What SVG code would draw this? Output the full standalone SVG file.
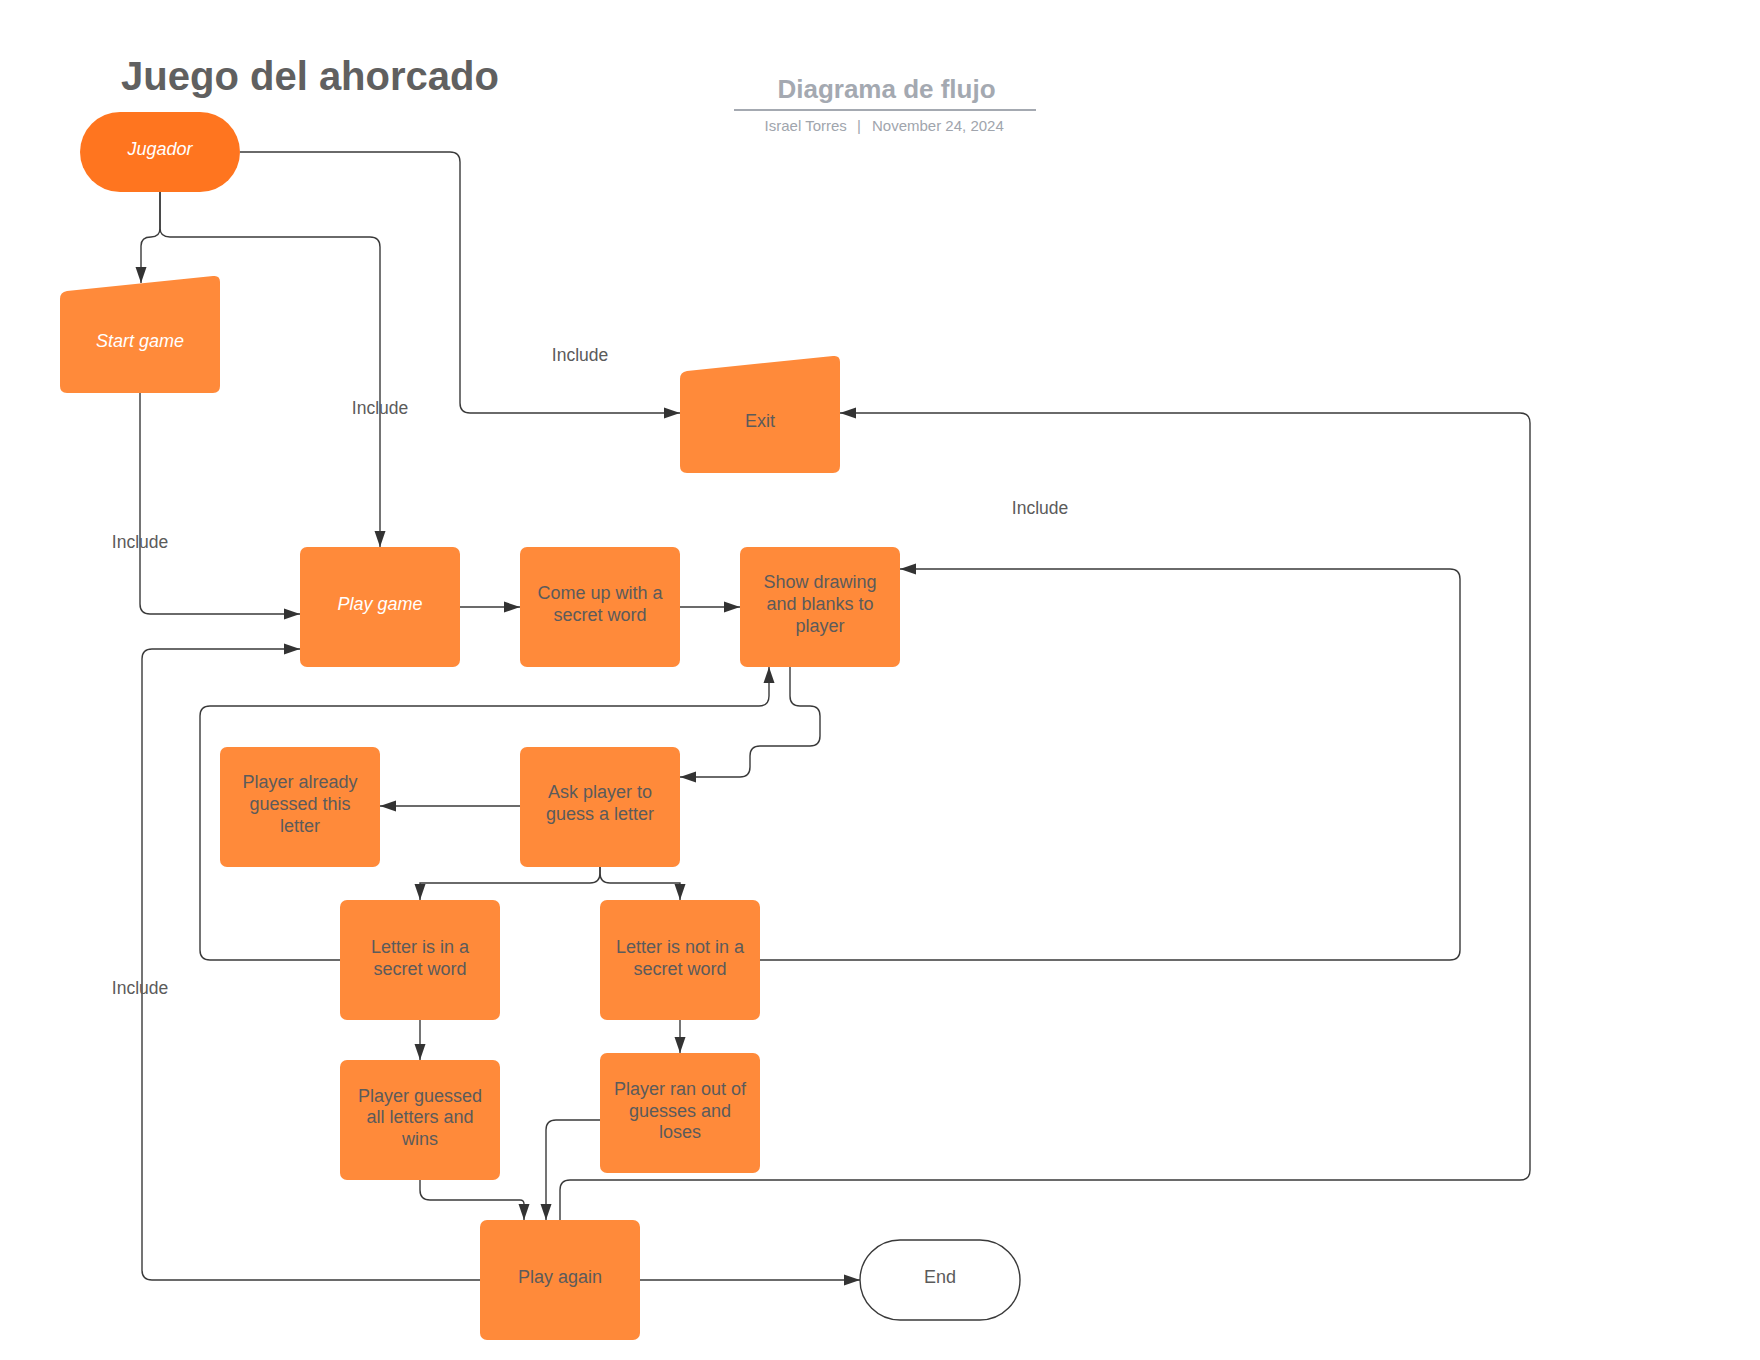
<svg xmlns="http://www.w3.org/2000/svg" width="1760" height="1360" viewBox="0 0 1760 1360">
<style>
.node{fill:#FF8A3A;}
.lbl{font-family:"Liberation Sans",Arial,sans-serif;font-size:18px;fill:#5B5B5B;text-anchor:middle;}
.wlbl{font-family:"Liberation Sans",Arial,sans-serif;font-size:18px;fill:#FFFFFF;font-style:italic;text-anchor:middle;}
.inc{font-family:"Liberation Sans",Arial,sans-serif;font-size:17.5px;fill:#5B5B5B;text-anchor:middle;}
.con{fill:none;stroke:#3A3A3A;stroke-width:1.4;}
.arr{marker-end:url(#arrow);}
</style>
<defs>
<marker id="arrow" markerWidth="16" markerHeight="12" refX="16" refY="6" orient="auto" markerUnits="userSpaceOnUse">
<path d="M0,0.5 L16,6 L0,11.5 Z" fill="#333333"/>
</marker>
</defs>
<rect x="0" y="0" width="1760" height="1360" fill="#FFFFFF"/>

<g id="header">
<text x="310" y="90" font-family="'Liberation Sans',Arial,sans-serif" font-size="40" font-weight="bold" fill="#606060" text-anchor="middle">Juego del ahorcado</text>
<text x="886.5" y="98" font-family="'Liberation Sans',Arial,sans-serif" font-size="26" font-weight="bold" fill="#A4A9B1" text-anchor="middle">Diagrama de flujo</text>
<line x1="734" y1="110" x2="1036" y2="110" stroke="#A4A9B1" stroke-width="2"/>
<text y="131" font-family="'Liberation Sans',Arial,sans-serif" font-size="15" fill="#A0A5AD"><tspan x="764.6">Israel Torres</tspan><tspan x="859" text-anchor="middle">|</tspan><tspan x="872">November 24, 2024</tspan></text>
</g>

<g id="connectors">
<path class="con arr" d="M240,152 H450 Q460,152 460,162 V403 Q460,413 470,413 H680"/>
<path class="con arr" d="M160,192 V228 Q160,237 151,237 Q141,237 141,246 V283"/>
<path class="con arr" d="M160,192 V228 Q160,237 170,237 H370 Q380,237 380,247 V547"/>
<path class="con arr" d="M140,393 V604 Q140,614 150,614 H300"/>
<path class="con arr" d="M460,607 H520"/>
<path class="con arr" d="M680,607 H740"/>
<path class="con arr" d="M790,667 V696 Q790,706 800,706 H810 Q820,706 820,716 V736 Q820,746 810,746 H760 Q750,746 750,756 V767 Q750,777 740,777 H680"/>
<path class="con arr" d="M520,806 H380"/>
<path class="con arr" d="M600,867 V873 Q600,883 590,883 H420 V900"/>
<path class="con arr" d="M600,867 V873 Q600,883 610,883 H680 V900"/>
<path class="con arr" d="M420,1020 V1060"/>
<path class="con arr" d="M680,1020 V1053"/>
<path class="con arr" d="M340,960 H210 Q200,960 200,950 V716 Q200,706 210,706 H759 Q769,706 769,696 V667"/>
<path class="con arr" d="M760,960 H1450 Q1460,960 1460,950 V579 Q1460,569 1450,569 H900"/>
<path class="con arr" d="M420,1180 V1190 Q420,1200 430,1200 H520 Q524,1200 524,1204 V1220"/>
<path class="con arr" d="M600,1120 H556 Q546,1120 546,1130 V1220"/>
<path class="con arr" d="M560,1220 V1190 Q560,1180 570,1180 H1520 Q1530,1180 1530,1170 V423 Q1530,413 1520,413 H840"/>
<path class="con arr" d="M480,1280 H152 Q142,1280 142,1270 V659 Q142,649 152,649 H300"/>
<path class="con arr" d="M640,1280 H860"/>
<text class="inc" x="380" y="414">Include</text>
<text class="inc" x="580" y="361">Include</text>
<text class="inc" x="140" y="548">Include</text>
<text class="inc" x="140" y="994">Include</text>
<text class="inc" x="1040" y="514">Include</text>
</g>

<g id="jugador">
<rect x="80" y="112" width="160" height="80" rx="40" ry="40" fill="#FF751F"/>
<text class="wlbl" x="160" y="155">Jugador</text>
</g>
<g id="start-game">
<path class="node" d="M60,299 Q60,292 67,291 L213,276 Q220,275 220,282 V386 Q220,393 213,393 H67 Q60,393 60,386 Z"/>
<text class="wlbl" x="140" y="347">Start game</text>
</g>
<g id="exit">
<path class="node" d="M680,379 Q680,372 687,371 L833,356 Q840,355 840,362 V466 Q840,473 833,473 H687 Q680,473 680,466 Z"/>
<text class="lbl" x="760" y="427">Exit</text>
</g>
<g id="play-game">
<rect class="node" x="300" y="547" width="160" height="120" rx="7"/>
<text class="wlbl" x="380" y="610">Play game</text>
</g>
<g id="come-up">
<rect class="node" x="520" y="547" width="160" height="120" rx="7"/>
<text class="lbl" x="600" y="599">Come up with a</text>
<text class="lbl" x="600" y="620.7">secret word</text>
</g>
<g id="show-drawing">
<rect class="node" x="740" y="547" width="160" height="120" rx="7"/>
<text class="lbl" x="820" y="588.3">Show drawing</text>
<text class="lbl" x="820" y="610">and blanks to</text>
<text class="lbl" x="820" y="631.7">player</text>
</g>
<g id="already-guessed">
<rect class="node" x="220" y="747" width="160" height="120" rx="7"/>
<text class="lbl" x="300" y="788">Player already</text>
<text class="lbl" x="300" y="810">guessed this</text>
<text class="lbl" x="300" y="832">letter</text>
</g>
<g id="ask-player">
<rect class="node" x="520" y="747" width="160" height="120" rx="7"/>
<text class="lbl" x="600" y="798">Ask player to</text>
<text class="lbl" x="600" y="820">guess a letter</text>
</g>
<g id="letter-in">
<rect class="node" x="340" y="900" width="160" height="120" rx="7"/>
<text class="lbl" x="420" y="953.3">Letter is in a</text>
<text class="lbl" x="420" y="975">secret word</text>
</g>
<g id="letter-not-in">
<rect class="node" x="600" y="900" width="160" height="120" rx="7"/>
<text class="lbl" x="680" y="953.3">Letter is not in a</text>
<text class="lbl" x="680" y="975">secret word</text>
</g>
<g id="player-wins">
<rect class="node" x="340" y="1060" width="160" height="120" rx="7"/>
<text class="lbl" x="420" y="1101.7">Player guessed</text>
<text class="lbl" x="420" y="1123.3">all letters and</text>
<text class="lbl" x="420" y="1145">wins</text>
</g>
<g id="player-loses">
<rect class="node" x="600" y="1053" width="160" height="120" rx="7"/>
<text class="lbl" x="680" y="1095">Player ran out of</text>
<text class="lbl" x="680" y="1116.7">guesses and</text>
<text class="lbl" x="680" y="1138.3">loses</text>
</g>
<g id="play-again">
<rect class="node" x="480" y="1220" width="160" height="120" rx="7"/>
<text class="lbl" x="560" y="1283.3">Play again</text>
</g>
<g id="end">
<rect x="860" y="1240" width="160" height="80" rx="40" ry="40" fill="#FFFFFF" stroke="#3A3A3A" stroke-width="1.4"/>
<text class="lbl" x="940" y="1283">End</text>
</g>
</svg>
